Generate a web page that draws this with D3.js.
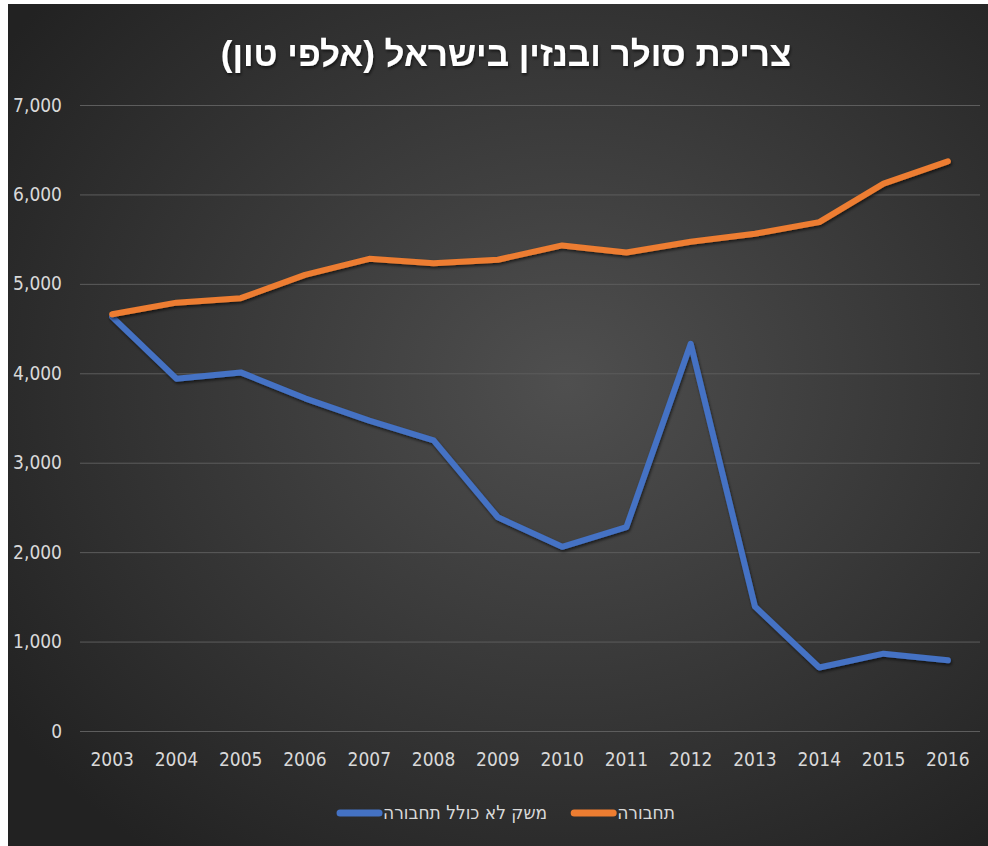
<!DOCTYPE html>
<html>
<head>
<meta charset="utf-8">
<script src="https://cdn.jsdelivr.net/npm/d3@7"></script>
<style>
  body { margin: 0; background: #fff; }
  svg { display: block; }
</style>
</head>
<body>
<div id="chart"></div>
<script>
// data (thousand tons)
const years = ['2003', '2004', '2005', '2006', '2007', '2008', '2009', '2010', '2011', '2012', '2013', '2014', '2015', '2016'];
const transport = [4660, 4790, 4840, 5100, 5280, 5230, 5270, 5430, 5350, 5470, 5560, 5690, 6120, 6370];
const nonTransport = [4630, 3940, 4010, 3720, 3470, 3250, 2390, 2060, 2280, 4330, 1390, 710, 865, 790];
const yTicks = [0, 1000, 2000, 3000, 4000, 5000, 6000, 7000];
const seriesNames = ['משק לא כולל תחבורה', 'תחבורה'];
const seriesColors = ['#4472c4', '#ed7d31'];
const titleText = 'צריכת סולר ובנזין בישראל (אלפי טון)';

const W = 988, H = 846;
const margin = {top: 105, right: 8, bottom: 115, left: 80};
const width = W - margin.left - margin.right;
const numFont = '"Liberation Sans Narrow", "DejaVu Sans Condensed", sans-serif';

const svg = d3.select('#chart').append('svg')
    .attr('width', W)
    .attr('height', H);

const defs = svg.append('defs');
const bg = defs.append('radialGradient')
    .attr('id', 'bg-grad')
    .attr('cx', '57%').attr('cy', '45%').attr('r', '70%');
bg.append('stop').attr('offset', '0%').attr('stop-color', '#4f4f4f');
bg.append('stop').attr('offset', '100%').attr('stop-color', '#222222');

const shadow = defs.append('filter')
    .attr('id', 'shadow')
    .attr('x', '-10%').attr('y', '-10%').attr('width', '120%').attr('height', '120%');
shadow.append('feDropShadow')
    .attr('dx', 1).attr('dy', 2).attr('stdDeviation', 1.5)
    .attr('flood-color', '#000').attr('flood-opacity', 0.6);

// chart background
svg.append('rect')
    .attr('x', 8).attr('y', 4)
    .attr('width', W - 8).attr('height', H - 4)
    .attr('fill', 'url(#bg-grad)');

// title
svg.append('text')
    .attr('x', 506)
    .attr('y', 66)
    .attr('direction', 'rtl')
    .attr('text-anchor', 'middle')
    .attr('fill', '#ffffff')
    .attr('filter', 'url(#shadow)')
    .style('font-family', '"Liberation Sans Narrow", "Liberation Sans", sans-serif')
    .style('font-size', '35px')
    .style('font-weight', 'bold')
    .text(titleText);

const g = svg.append('g')
    .attr('transform', 'translate(' + margin.left + ',' + margin.top + ')');

const plotH = 731 - margin.top;

const x = d3.scaleBand()
    .domain(years)
    .range([0, width]);

const y = d3.scaleLinear()
    .domain([0, 7000])
    .range([plotH, 0]);

// grid
g.append('g')
    .attr('class', 'grid')
    .call(d3.axisLeft(y).tickValues(yTicks).tickSize(-width).tickFormat(''))
    .call(s => s.select('.domain').remove())
    .call(s => s.selectAll('line').attr('stroke', '#5d5d5d').attr('stroke-width', 1));

// y labels
g.append('g')
    .call(d3.axisLeft(y).tickValues(yTicks).tickSize(0).tickPadding(18).tickFormat(d3.format(',')))
    .call(s => s.select('.domain').remove())
    .call(s => s.selectAll('text')
      .attr('fill', '#d9d9d9')
      .style('font-family', numFont)
      .style('font-size', '19px'));

// x labels
g.append('g')
    .attr('transform', 'translate(0,' + plotH + ')')
    .call(d3.axisBottom(x).tickSize(0).tickPadding(22))
    .call(s => s.select('.domain').remove())
    .call(s => s.selectAll('text')
      .attr('fill', '#d9d9d9')
      .style('font-family', numFont)
      .style('font-size', '19px'));

const line = d3.line()
    .x((d, i) => x(years[i]) + x.bandwidth() / 2)
    .y(d => y(d));

[nonTransport, transport].forEach((data, i) => {
  g.append('path')
      .datum(data)
      .attr('fill', 'none')
      .attr('stroke', seriesColors[i])
      .attr('stroke-width', 6)
      .attr('stroke-linejoin', 'round')
      .attr('stroke-linecap', 'round')
      .attr('filter', 'url(#shadow)')
      .attr('d', line);
});

// legend
const legend = svg.append('g');
let cursor = 0;
seriesNames.forEach((name, i) => {
  const item = legend.append('g');
  item.append('line')
      .attr('x1', 3).attr('x2', 42)
      .attr('stroke', seriesColors[i])
      .attr('stroke-width', 7)
      .attr('stroke-linecap', 'round');
  const t = item.append('text')
      .attr('x', 46)
      .attr('y', 6)
      .attr('fill', '#d9d9d9')
      .style('font-family', numFont)
      .style('font-size', '19px')
      .text(name);
  const tw = t.node().getComputedTextLength();
  item.attr('transform', 'translate(' + cursor + ',0)');
  cursor += 46 + tw + 24;
});
const legendW = cursor - 24;
legend.attr('transform', 'translate(' + (506 - legendW / 2) + ',813)');
</script>
</body>
</html>
